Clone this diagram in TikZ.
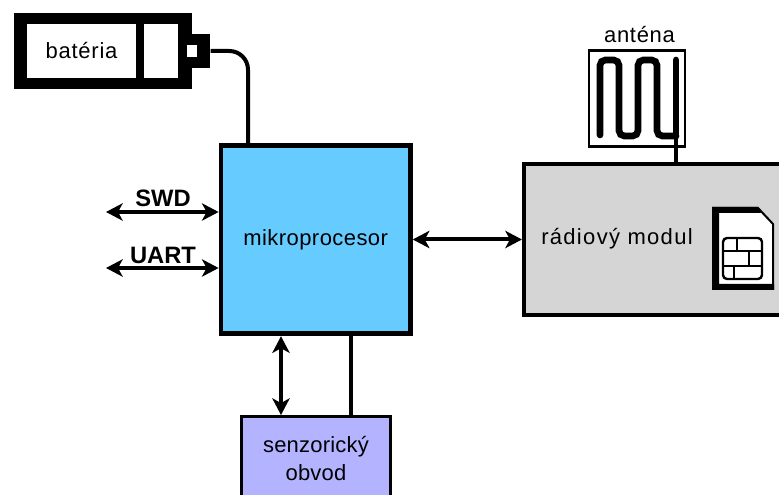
\documentclass[tikz,border=0pt]{standalone}
\usepackage{fontspec}
\setmainfont{Liberation Sans}
\usetikzlibrary{arrows.meta}
\definecolor{procblue}{HTML}{66CCFF}
\definecolor{modgray}{HTML}{D5D5D5}
\definecolor{sensviolet}{HTML}{B3B3FF}
\tikzset{
    block/.style={draw, rectangle, inner sep=0pt},
    label/.style={inner sep=0pt, font=\fontsize{16.5pt}{21pt}\selectfont, align=center},
    busname/.style={inner sep=0pt, font=\fontsize{17.8pt}{20pt}\selectfont\bfseries},
    wire/.style={line width=3pt},
    link/.style={line width=3pt, {Stealth[length=12.5pt,width=13pt,inset=3.5pt]}-{Stealth[length=12.5pt,width=13pt,inset=3.5pt]}},
}
\begin{document}
\begin{tikzpicture}[x=0.75pt, y=-0.75pt]
    \useasboundingbox (0,0) rectangle (779,495);
    % battery
    \node[block, fill=black, draw=none, minimum width=133.5pt, minimum height=56.5pt] (bat) at (102.5,51) {};
    \node[block, fill=black, draw=none, minimum width=14pt, minimum height=25pt] (batpin) at (201,51) {};
    \node[block, fill=white, draw=none, minimum width=81.5pt, minimum height=40.5pt, label] (batcell) at (81.5,51) {\addfontfeatures{LetterSpace=3.5}batéria};
    \node[block, fill=white, draw=none, minimum width=26pt, minimum height=40.5pt] (batcap) at (161,51) {};
    \node[block, fill=white, draw=none, minimum width=8pt, minimum height=9.5pt] (bathole) at (192,51) {};
    % main blocks
    \node[block, fill=procblue, line width=3.6pt, minimum width=142pt, minimum height=141.5pt, label] (proc) at (315.7,239.5) {\addfontfeatures{LetterSpace=2}mikroprocesor};
    \node[block, fill=modgray, line width=3pt, minimum width=200pt, minimum height=113pt] (radio) at (657.3,239.5) {};
    \node[label] (radiotxt) at (617,239) {\addfontfeatures{LetterSpace=6}rádiový modul};
    \node[block, fill=sensviolet, line width=2.2pt, minimum width=111.5pt, minimum height=90pt] (sens) at (316.2,476.5) {};
    \node[label] (senstxt) at (316,459) {\addfontfeatures{LetterSpace=1}senzorický\\\addfontfeatures{LetterSpace=1}obvod};
    % antenna
    \node[block, fill=white, line width=2.2pt, minimum width=72pt, minimum height=72pt] (ant) at (637,98.5) {};
    \node[label, anchor=base] (anttxt) at (639.5,43) {\addfontfeatures{LetterSpace=3}anténa};
    \draw[line width=5pt, line cap=round, rounded corners=4pt] (600,135)--(600,60)--(619,60)--(619,136)--(638,136)--(638,60)--(657,60)--(657,136)--(676,136);
    \draw[line width=5pt, line cap=round] (676,136)--(676,60);
    \coordinate (antfeed) at (676,136);
    \draw[wire] (antfeed)--(antfeed |- radio.north);
    % power
    \coordinate (batwire) at (248,51);
    \draw[wire, rounded corners=14pt] (batpin.east)--(batwire)--(batwire |- proc.north);
    % links
    \draw[link] (proc.east)--(radio.west |- proc.east);
    \foreach \nm/\yy/\ty in {SWD/212/198,UART/268/255}{
        \coordinate (\nm end) at (106,\yy);
        \draw[link] (\nm end)--(\nm end -| proc.west);
        \node[busname] (\nm txt) at (163,\ty) {\nm};
    }
    \coordinate (sensbus) at (281,415);
    \draw[link] (sensbus |- proc.south)--(sensbus |- sens.north);
    \coordinate (senspwr) at (351,415);
    \draw[wire] (senspwr |- proc.south)--(senspwr |- sens.north);
    % sim card
    \filldraw[fill=white, line width=1.5pt] (713,208)--(758,208)--(773,224)--(773,289)--(713,289)--cycle;
    \fill (712,207)--(758,207)--(761,213)--(719,213)--(719,284)--(774,284)--(774,290)--(712,290)--cycle;
    \draw[line width=1.8pt, rounded corners=3pt] (723,238) rectangle (762,279);
    \draw[line width=1.8pt] (723,251)--(762,251) (723,266)--(762,266);
    \draw[line width=1.8pt] (737,238)--(737,251) (749,251)--(749,266) (734,266)--(734,279);
\end{tikzpicture}
\end{document}
